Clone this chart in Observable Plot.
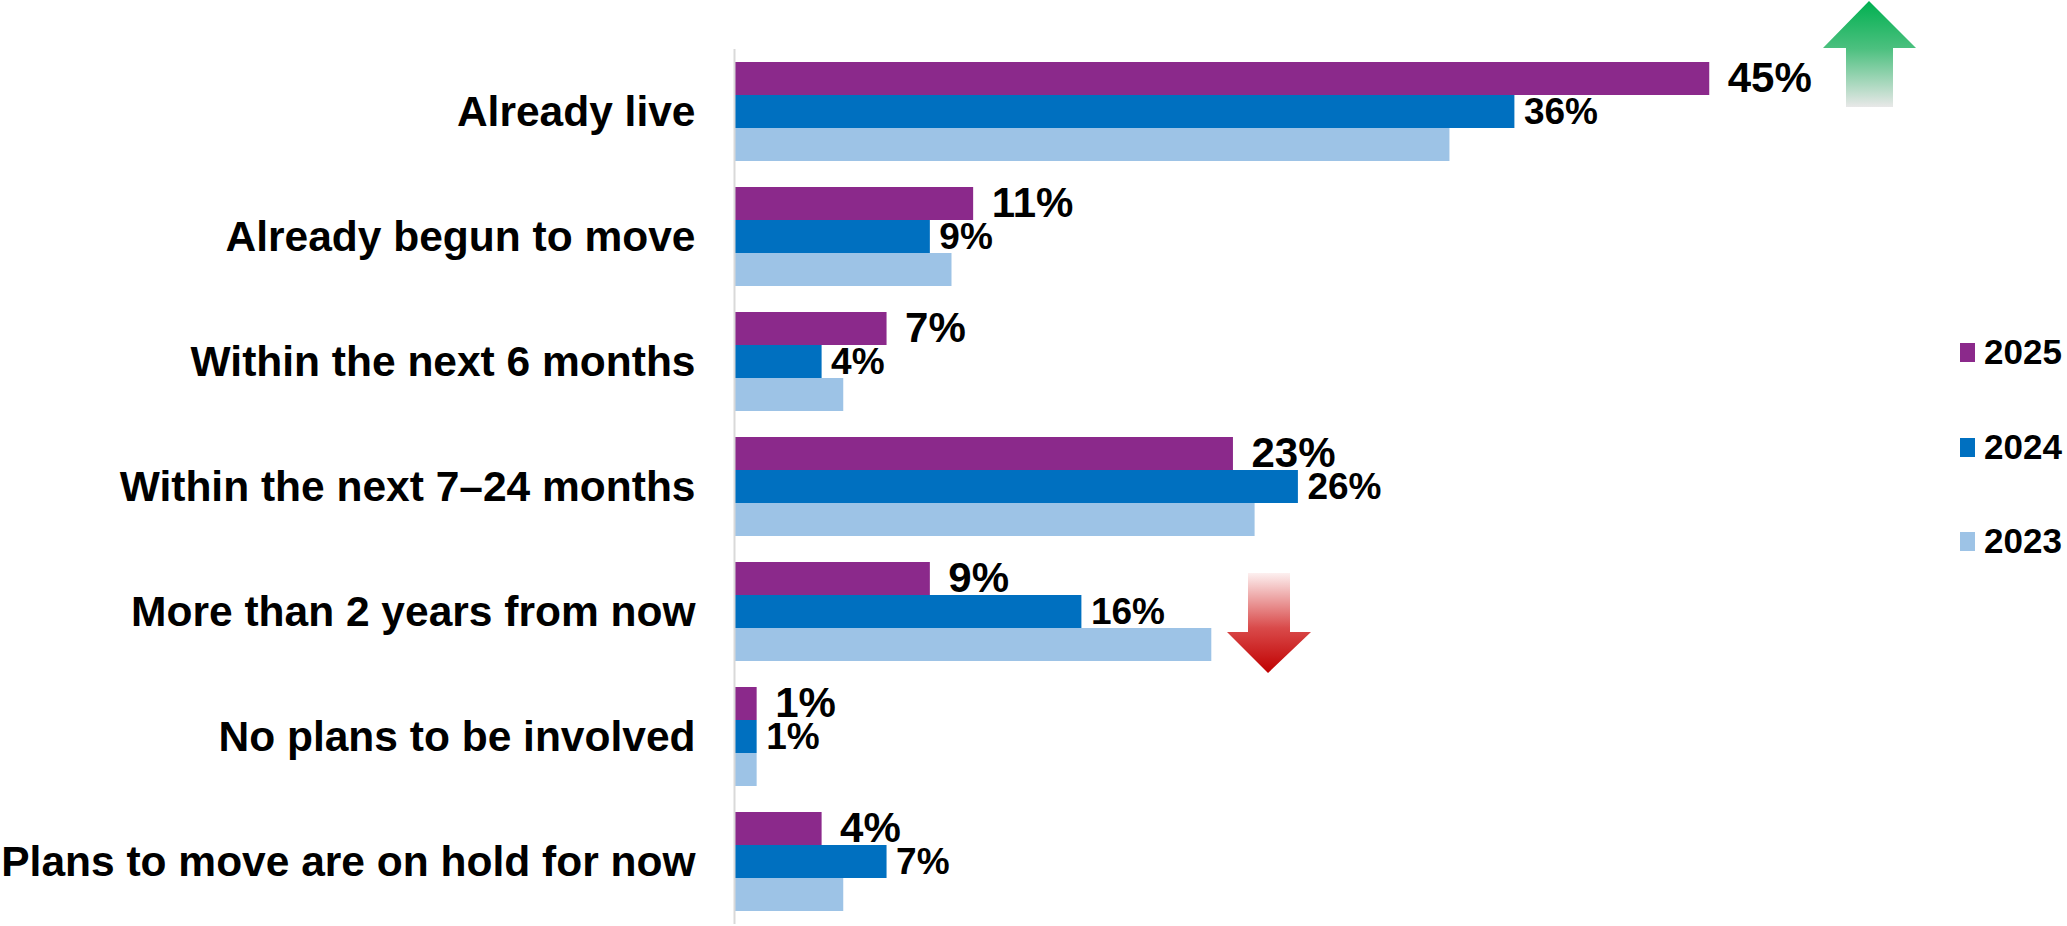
<!DOCTYPE html>
<html>
<head>
<meta charset="utf-8">
<script src="https://cdn.jsdelivr.net/npm/d3@7"></script>
<script src="https://cdn.jsdelivr.net/npm/@observablehq/plot@0.6"></script>
<style>
  html, body { margin: 0; padding: 0; background: #fff; }
  #wrap { position: relative; width: 2067px; height: 926px; font-family: "Liberation Sans", Arial, sans-serif; }
  #legend { position: absolute; left: 1960px; top: 0; }
  .lg { position: absolute; left: 0; display: flex; align-items: center; white-space: nowrap; font-weight: bold; font-size: 35px; color: #000; }
  .lg span.sw { display: inline-block; width: 15px; height: 19px; margin-right: 9px; }
</style>
</head>
<body>
<div id="wrap"><div id="legend"></div></div>
<script>
const categories = [
  "Already live",
  "Already begun to move",
  "Within the next 6 months",
  "Within the next 7–24 months",
  "More than 2 years from now",
  "No plans to be involved",
  "Plans to move are on hold for now"
];
const years = ["2025", "2024", "2023"];
const values2025 = [45, 11, 7, 23, 9, 1, 4];
const values2024 = [36, 9, 4, 26, 16, 1, 7];
const values2023 = [33, 10, 5, 24, 22, 1, 5];
const colors = ["#8b298b", "#0070c0", "#9dc3e6"];

const series = [values2025, values2024, values2023];
const rows = [];
years.forEach((yr, i) => {
  categories.forEach((c, j) => rows.push({category: c, year: yr, value: series[i][j]}));
});
const rows2025 = rows.filter(d => d.year === "2025");
const rows2024 = rows.filter(d => d.year === "2024");

const font = '"Liberation Sans", Arial, sans-serif';

const chart = Plot.plot({
  width: 2067,
  height: 926,
  marginLeft: 735,
  marginRight: 2067 - 735 - 60 * 21.65,
  marginTop: 47,
  marginBottom: 0,
  style: {fontFamily: font, color: "#000", background: "#fff"},
  x: {domain: [0, 60], axis: null},
  y: {domain: years, padding: 0, axis: null},
  fy: {domain: categories, paddingInner: 0.207, paddingOuter: 0.1035, label: null},
  color: {domain: years, range: colors},
  marks: [
    Plot.barX(rows, {fy: "category", y: "year", x: "value", fill: "year"}),
    Plot.ruleX([0], {stroke: "#d9d9d9", strokeWidth: 2, dx: -1, insetTop: -13, insetBottom: -13}),
    Plot.text(rows2025, {fy: "category", y: "year", x: "value", text: d => d.value + "%", textAnchor: "start", dx: 18, fontSize: 42, fontWeight: "bold", fill: "#000"}),
    Plot.text(rows2024, {fy: "category", y: "year", x: "value", text: d => d.value + "%", textAnchor: "start", dx: 9, fontSize: 37, fontWeight: "bold", fill: "#000"}),
    Plot.axisFy({anchor: "left", tickSize: 0, tickPadding: 40, fontSize: 42.5, fontWeight: "bold", label: null})
  ]
});

document.getElementById("wrap").prepend(chart);

// decorative trend arrows
const svg = d3.select(chart);
const defs = svg.append("defs");
const gUp = defs.append("linearGradient").attr("id", "gup").attr("x1", 0).attr("y1", 0).attr("x2", 0).attr("y2", 1);
gUp.append("stop").attr("offset", "0%").attr("stop-color", "#00b050");
gUp.append("stop").attr("offset", "45%").attr("stop-color", "#4cc07f");
gUp.append("stop").attr("offset", "100%").attr("stop-color", "#e8e8e8");
const gDown = defs.append("linearGradient").attr("id", "gdown").attr("x1", 0).attr("y1", 0).attr("x2", 0).attr("y2", 1);
gDown.append("stop").attr("offset", "0%").attr("stop-color", "#fdf0f0");
gDown.append("stop").attr("offset", "55%").attr("stop-color", "#d94a4a");
gDown.append("stop").attr("offset", "100%").attr("stop-color", "#c00000");

svg.append("path")
  .attr("d", "M1869,1 L1916,48 L1893,48 L1893,107 L1846,107 L1846,48 L1823,48 Z")
  .attr("fill", "url(#gup)");
svg.append("path")
  .attr("d", "M1248,573 L1290,573 L1290,632 L1311,632 L1268,673 L1227,632 L1248,632 Z")
  .attr("fill", "url(#gdown)");

// legend
const legend = document.getElementById("legend");
const legendY = [352, 447, 541];
years.forEach((yr, i) => {
  const div = document.createElement("div");
  div.className = "lg";
  div.style.top = (legendY[i] - 20) + "px";
  div.style.height = "40px";
  div.innerHTML = `<span class="sw" style="background:${colors[i]}"></span>${yr}`;
  legend.appendChild(div);
});
</script>
</body>
</html>
